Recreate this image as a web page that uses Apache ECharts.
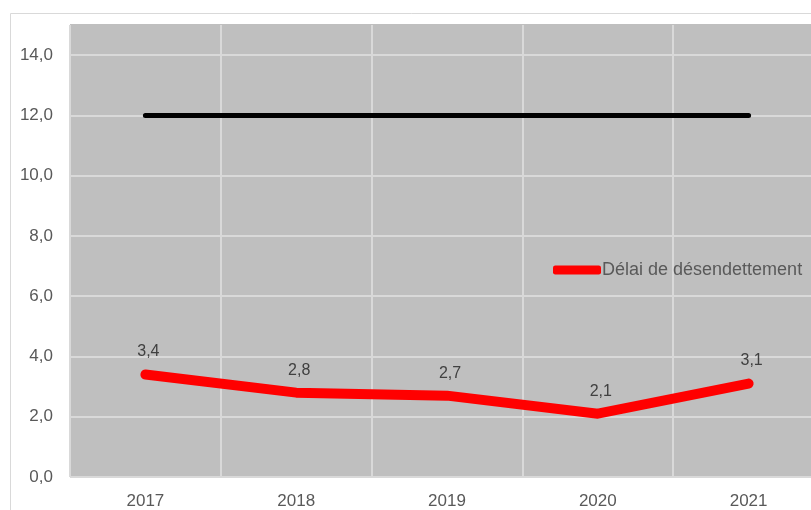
<!DOCTYPE html>
<html>
<head>
<meta charset="utf-8">
<script src="https://cdn.jsdelivr.net/npm/echarts@6/dist/echarts.min.js"></script>
<style>
  html, body { margin: 0; padding: 0; background: #fff; }
  #chart { width: 811px; height: 510px; }
</style>
</head>
<body>
<div id="chart"></div>
<script>
// données
var annees = ['2017', '2018', '2019', '2020', '2021'];
var delai = [3.4, 2.8, 2.7, 2.1, 3.1];
var seuil = [12, 12, 12, 12, 12];

var chart = echarts.init(document.getElementById('chart'));

function virgule(v) {
  return v.toFixed(1).replace('.', ',');
}

chart.setOption({
  animation: false,
  textStyle: { fontFamily: 'Liberation Sans, Arial, sans-serif' },
  graphic: [{
    type: 'rect',
    shape: { x: 10.5, y: 13.5, width: 900, height: 600 },
    style: { fill: 'none', stroke: '#D9D9D9', lineWidth: 1 },
    silent: true,
    z: -10
  }],
  grid: {
    left: 70,
    top: 25,
    width: 754,
    height: 452,
    outerBoundsMode: 'none',
    containLabel: false,
    show: true,
    backgroundColor: '#BFBFBF',
    borderWidth: 0
  },
  legend: {
    left: 548,
    top: 256,
    data: ['Délai de désendettement'],
    icon: 'roundRect',
    itemWidth: 48,
    itemHeight: 9,
    itemGap: 10,
    textStyle: { color: '#595959', fontSize: 18, padding: [0, 0, 0, -4] }
  },
  xAxis: {
    type: 'category',
    data: annees,
    boundaryGap: true,
    axisLine: { show: false },
    axisTick: { show: false },
    axisLabel: { color: '#595959', fontSize: 17, margin: 16 },
    splitLine: { show: true, lineStyle: { color: '#D9D9D9', width: 2 } }
  },
  yAxis: {
    type: 'value',
    min: 0,
    max: 15,
    interval: 2,
    axisLine: { show: false },
    axisTick: { show: false },
    axisLabel: {
      color: '#595959',
      fontSize: 17,
      margin: 17,
      showMaxLabel: false,
      formatter: function (v) { return virgule(v); }
    },
    splitLine: {
      lineStyle: {
        color: ['#D9D9D9', '#D9D9D9', '#D9D9D9', '#D9D9D9', '#D9D9D9',
                '#D9D9D9', '#D9D9D9', '#D9D9D9', '#BFBFBF'],
        width: 2
      }
    }
  },
  series: [
    {
      name: 'Seuil',
      type: 'line',
      data: seuil,
      symbol: 'none',
      lineStyle: { color: '#000000', width: 5, cap: 'round' },
      z: 3
    },
    {
      name: 'Délai de désendettement',
      type: 'line',
      data: delai,
      symbol: 'circle',
      symbolSize: 1,
      showSymbol: true,
      color: '#FF0000',
      itemStyle: { color: '#FF0000' },
      lineStyle: { color: '#FF0000', width: 10, cap: 'round', join: 'round' },
      label: {
        show: true,
        position: 'top',
        distance: 14,
        offset: [3, 0],
        color: '#404040',
        fontSize: 16,
        formatter: function (p) { return virgule(p.value); }
      },
      z: 4
    }
  ]
});
</script>
</body>
</html>
